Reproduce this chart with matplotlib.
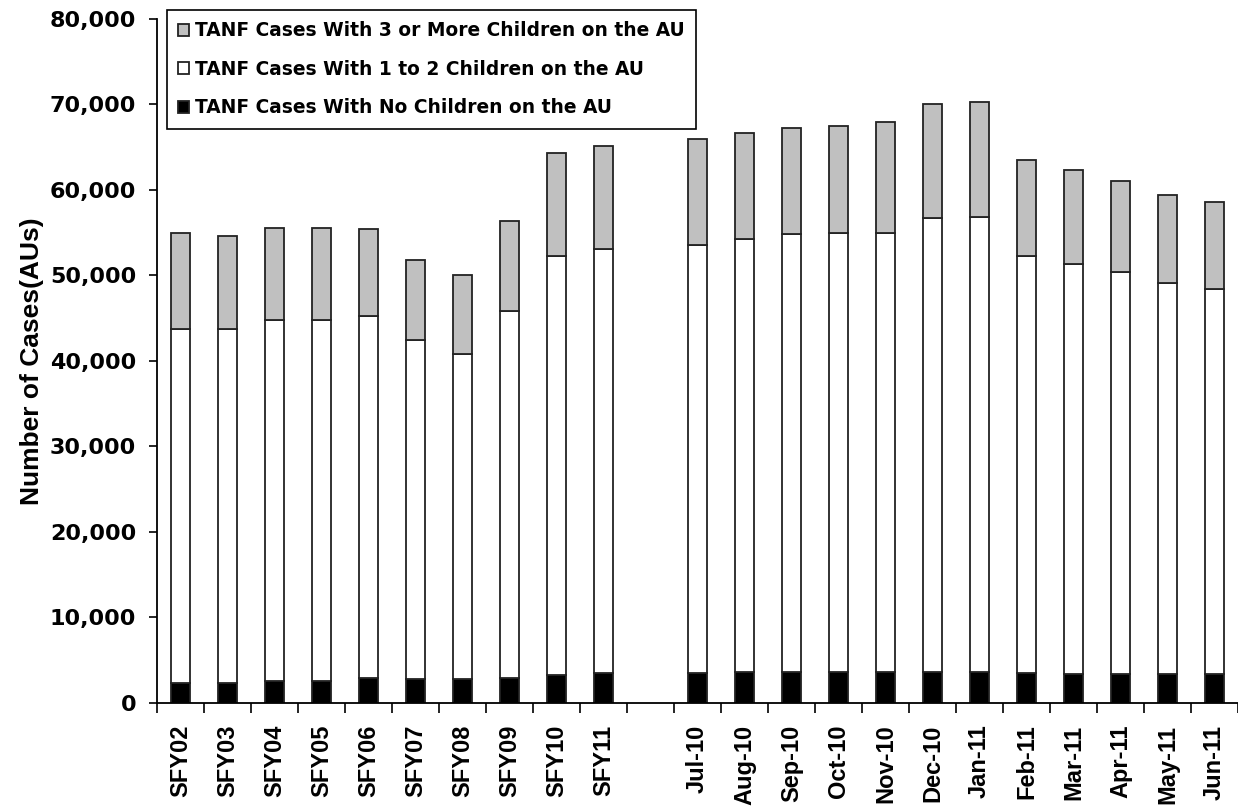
import numpy as np
import matplotlib
matplotlib.use("Agg")
import matplotlib.pyplot as plt
from matplotlib.ticker import FuncFormatter, FixedLocator

# categorias (la vacia separa los anios fiscales de los meses)
categorias = ["SFY02", "SFY03", "SFY04", "SFY05", "SFY06", "SFY07", "SFY08", "SFY09", "SFY10", "SFY11",
              "",
              "Jul-10", "Aug-10", "Sep-10", "Oct-10", "Nov-10", "Dec-10",
              "Jan-11", "Feb-11", "Mar-11", "Apr-11", "May-11", "Jun-11"]

sin_hijos = [2300, 2300, 2500, 2500, 2900, 2800, 2800, 2900, 3250, 3400,
             np.nan,
             3450, 3600, 3600, 3600, 3600, 3600, 3600, 3450, 3300, 3300, 3300, 3300]
uno_a_dos = [41400, 41400, 42300, 42300, 42300, 39600, 38000, 42900, 49050, 49700,
             np.nan,
             50150, 50600, 51200, 51400, 51400, 53100, 53200, 48850, 48000, 47100, 45800, 45100]
tres_o_mas = [11200, 10900, 10700, 10700, 10200, 9400, 9200, 10600, 12000, 12000,
              np.nan,
              12300, 12500, 12400, 12500, 12900, 13300, 13500, 11200, 11000, 10700, 10300, 10200]

etiquetas = ["TANF Cases With 3 or More Children on the AU",
             "TANF Cases With 1 to 2 Children on the AU",
             "TANF Cases With No Children on the AU"]

x = np.arange(len(categorias))
ok = ~np.isnan(np.array(sin_hijos, dtype=float))
xb = x[ok]
b = np.array(sin_hijos, dtype=float)[ok]
w = np.array(uno_a_dos, dtype=float)[ok]
g = np.array(tres_o_mas, dtype=float)[ok]

fig = plt.figure(figsize=(12.38, 8.10), dpi=100)
ax = fig.add_axes([0.1268, 0.1327, 0.8732, 0.8438])

ancho = 0.4
borde = dict(edgecolor="#222222", linewidth=1.3)
ax.bar(xb, b, ancho, color="black", label=etiquetas[2], **borde)
ax.bar(xb, w, ancho, bottom=b, color="white", label=etiquetas[1], **borde)
ax.bar(xb, g, ancho, bottom=b + w, color="#C0C0C0", label=etiquetas[0], **borde)

ax.set_xlim(-0.5, len(categorias) - 0.5)
ax.set_ylim(0, 80000)
ax.set_yticks(np.arange(0, 80001, 10000))
ax.yaxis.set_major_formatter(FuncFormatter(lambda v, p: f"{int(v):,}"))

ax.spines["top"].set_visible(False)
ax.spines["right"].set_visible(False)
ax.spines["left"].set_linewidth(1.3)
ax.spines["bottom"].set_linewidth(1.3)

ax.set_xticks(x)
ax.set_xticklabels(categorias, rotation=90, fontfamily="Liberation Sans",
                   fontweight="bold", fontsize=17)
ax.xaxis.set_minor_locator(FixedLocator(np.arange(-0.5, len(categorias), 1)))
ax.tick_params(axis="x", which="major", length=0, pad=16)
ax.tick_params(axis="x", which="minor", length=7, width=1.2, direction="out")
ax.tick_params(axis="y", length=6, width=1.2, direction="out", pad=9)
for t in ax.get_yticklabels():
    t.set_fontfamily("DejaVu Sans")
    t.set_fontweight("bold")
    t.set_fontsize(16)

ax.set_ylabel("Number of Cases(AUs)", fontfamily="Liberation Sans",
              fontweight="bold", fontsize=19, labelpad=4)

h, l = ax.get_legend_handles_labels()
leg = ax.legend(h[::-1], l[::-1], loc="upper left", bbox_to_anchor=(0.009, 1.013),
                prop={"family": "DejaVu Sans", "weight": "bold", "size": 13.4},
                handlelength=0.6, handleheight=0.6, handletextpad=0.3,
                labelspacing=1.05, borderpad=0.6, borderaxespad=0.0,
                fancybox=False, framealpha=1)
leg.get_frame().set_edgecolor("black")
leg.get_frame().set_linewidth(1.2)

fig.savefig("out.png", dpi=100)
